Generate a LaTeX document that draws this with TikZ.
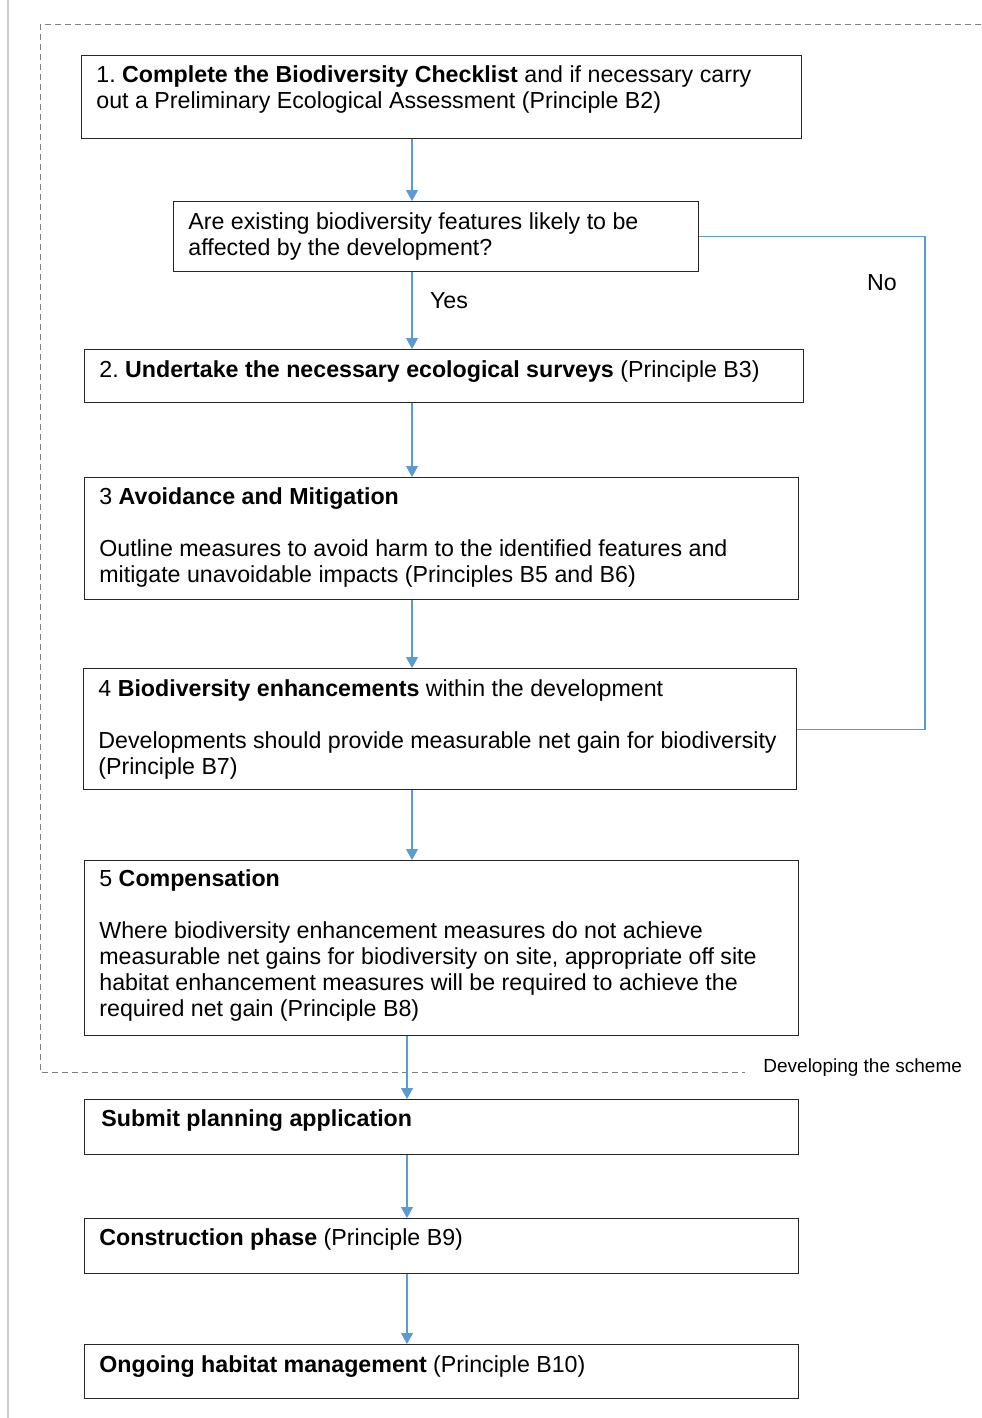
\documentclass[tikz,border=0pt]{standalone}
\usepackage{fontspec}
\setmainfont{Liberation Sans}
\usetikzlibrary{arrows.meta}

\definecolor{flowblue}{RGB}{91,155,213}
\tikzset{
  box/.style={draw=black!85, line width=0.7pt, rectangle, anchor=north west, inner sep=0pt},
  txt/.style={anchor=north west, inner sep=0pt, align=left, font=\fontsize{11.6}{13}\selectfont\frenchspacing},
  flow/.style={draw=flowblue, line width=0.6pt, -{Triangle[width=6pt,length=5.5pt]}},
  link/.style={draw=flowblue, line width=0.6pt},
  frame/.style={draw=gray, dash pattern=on 3pt off 2pt, line width=0.5pt}
}

\begin{document}
\begin{tikzpicture}[x=0.5pt, y=-0.5pt]
  \useasboundingbox (0,0) rectangle (981,1418);
  \draw[gray!40, line width=0.6pt] (8,0) -- (8,1418);

  % developing the scheme
  \draw[frame] (981,25) -- (40,25) -- (40,1072) -- (745,1072);
  \node[txt, anchor=west, font=\fontsize{9.5}{11}\selectfont] (scheme) at (763,1068) {Developing the scheme};

  \node[box, minimum width=360pt, minimum height=41.5pt] (b1) at (81,55) {};
  \node[box, minimum width=262.5pt, minimum height=35pt] (q) at (173,201) {};
  \node[box, minimum width=359.5pt, minimum height=26.5pt] (b2) at (84,349) {};
  \node[box, minimum width=357pt, minimum height=61pt] (b3) at (84,477) {};
  \node[box, minimum width=356.5pt, minimum height=60.5pt] (b4) at (83,668) {};
  \node[box, minimum width=357pt, minimum height=87.5pt] (b5) at (84,860) {};
  \node[box, minimum width=357pt, minimum height=27.5pt] (submit) at (84,1099) {};
  \node[box, minimum width=357pt, minimum height=27.5pt] (build) at (84,1218) {};
  \node[box, minimum width=357pt, minimum height=27pt] (care) at (84,1344) {};

  \node[txt] (t1) at (96,65) {1. \textbf{Complete the Biodiversity Checklist} and if necessary carry\\
    out a Preliminary Ecological Assessment (Principle B2)};
  \node[txt] (tq) at (188,212) {Are existing biodiversity features likely to be\\
    affected by the development?};
  \node[txt] (t2) at (99,360) {2. \textbf{Undertake the necessary ecological surveys} (Principle B3)};
  \node[txt] (t3) at (99,487) {3 \textbf{Avoidance and Mitigation}\\[13pt]
    Outline measures to avoid harm to the identified features and\\
    mitigate unavoidable impacts (Principles B5 and B6)};
  \node[txt] (t4) at (98,679) {4 \textbf{Biodiversity enhancements} within the development\\[13pt]
    Developments should provide measurable net gain for biodiversity\\
    (Principle B7)};
  \node[txt] (t5) at (99,869) {5 \textbf{Compensation}\\[13pt]
    Where biodiversity enhancement measures do not achieve\\
    measurable net gains for biodiversity on site, appropriate off site\\
    habitat enhancement measures will be required to achieve the\\
    required net gain (Principle B8)};
  \node[txt] (ts) at (101,1109) {\textbf{Submit planning application}};
  \node[txt] (tb) at (99,1228) {\textbf{Construction phase} (Principle B9)};
  \node[txt] (tc) at (99,1355) {\textbf{Ongoing habitat management} (Principle B10)};

  \node[txt, anchor=center] (yes) at (449,301) {Yes};
  \node[txt, anchor=center] (no) at (882,283) {No};

  \coordinate (ax) at (412,0);
  \coordinate (bx) at (407,0);
  \coordinate (nx) at (925,0);
  \draw[flow] (b1.south -| ax) -- (q.north -| ax);
  \draw[flow] (q.south -| ax) -- (b2.north -| ax);
  \foreach \a/\b in {b2/b3,b3/b4,b4/b5}
    \draw[flow] (\a.south -| ax) -- (\b.north -| ax);
  \foreach \a/\b in {b5/submit,submit/build,build/care}
    \draw[flow] (\a.south -| bx) -- (\b.north -| bx);
  \draw[link] (q.east) -- (q.east -| nx) -- (b4.east -| nx) -- (b4.east);
\end{tikzpicture}
\end{document}
